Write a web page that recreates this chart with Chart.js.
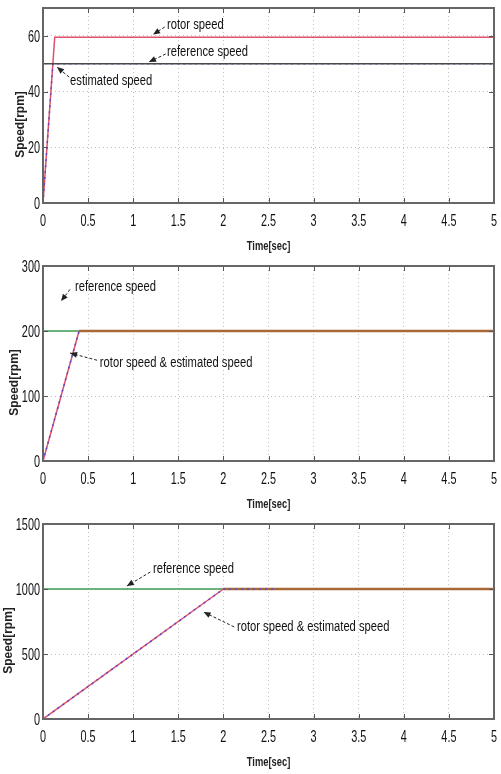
<!DOCTYPE html>
<html>
<head>
<meta charset="utf-8">
<script src="https://cdn.jsdelivr.net/npm/chart.js@4.4.0/dist/chart.umd.min.js"></script>
<style>
  html, body { margin: 0; padding: 0; background: #fff; }
  .panel { width: 501px; height: 258px; }
  canvas { display: block; }
</style>
</head>
<body>
<div class="panel"><canvas id="c1" width="501" height="258"></canvas></div>
<div class="panel"><canvas id="c2" width="501" height="258"></canvas></div>
<div class="panel"><canvas id="c3" width="501" height="258"></canvas></div>
<script>
// ─── data (time in sec, speed in rpm) ───────────────────────────────
const P1_Y_TICKS = [0, 20, 40, 60];
const P2_Y_TICKS = [0, 100, 200, 300];
const P3_Y_TICKS = [0, 500, 1000, 1500];

const P1_REF_T   = [0, 5];          const P1_REF   = [50, 50];
const P1_ROTOR_T = [0, 0.13, 5];    const P1_ROTOR = [0, 59.5, 59.5];
const P1_EST_T   = [0, 0.11, 5];    const P1_EST   = [0, 50, 50];

const P2_REF_T   = [0, 0, 5];       const P2_REF   = [0, 200, 200];
const P2_ROTOR_T = [0, 0.4, 5];     const P2_ROTOR = [0, 200, 200];
const P2_EST_T   = [0, 0.4, 5];     const P2_EST   = [0, 200, 200];

const P3_REF_T   = [0, 0, 5];       const P3_REF   = [0, 1000, 1000];
const P3_ROTOR_T = [0, 2, 5];       const P3_ROTOR = [0, 1000, 1000];
const P3_EST_T   = [0, 2, 2.6, 5];  const P3_EST   = [0, 1000, 1000, 1000];

const pts = (t, v) => t.map((x, i) => ({ x, y: v[i] }));
const fmt = v => String(+v.toFixed(2));

const RED = '#e0506a', BLUE = '#5a48d0', GREEN = '#3f9a50', BROWN = '#a8693a';

// text squeezed horizontally, the original uses a very narrow face
function narrowText(ctx, str, x, y, sx, align, base) {
  ctx.save();
  ctx.translate(x, y);
  ctx.scale(sx, 1);
  ctx.textAlign = align;
  ctx.textBaseline = base;
  ctx.fillText(str, 0, 0);
  ctx.restore();
}

function arrow(ctx, x0, y0, x1, y1) {
  ctx.save();
  ctx.strokeStyle = '#222';
  ctx.fillStyle = '#222';
  ctx.lineWidth = 1;
  ctx.setLineDash([3, 2]);
  ctx.beginPath(); ctx.moveTo(x0, y0); ctx.lineTo(x1, y1); ctx.stroke();
  ctx.setLineDash([]);
  const a = Math.atan2(y1 - y0, x1 - x0), L = 7, W = 3;
  ctx.beginPath();
  ctx.moveTo(x1, y1);
  ctx.lineTo(x1 - L * Math.cos(a) + W * Math.sin(a), y1 - L * Math.sin(a) - W * Math.cos(a));
  ctx.lineTo(x1 - L * Math.cos(a) - W * Math.sin(a), y1 - L * Math.sin(a) + W * Math.cos(a));
  ctx.closePath(); ctx.fill();
  ctx.restore();
}

// box, inward tick marks, tick labels, titles and callouts (MATLAB look)
const matlabPlugin = {
  id: 'matlab',
  afterDatasetsDraw(chart, args, opts) {
    const { ctx, chartArea: a, scales: { x, y } } = chart;
    ctx.save();
    ctx.strokeStyle = '#555';
    ctx.lineWidth = 1;
    x.ticks.forEach(t => {
      const px = Math.round(x.getPixelForValue(t.value)) + 0.5;
      ctx.beginPath();
      ctx.moveTo(px, a.bottom); ctx.lineTo(px, a.bottom - 5);
      ctx.moveTo(px, a.top); ctx.lineTo(px, a.top + 5);
      ctx.stroke();
    });
    y.ticks.forEach(t => {
      const py = Math.round(y.getPixelForValue(t.value)) + 0.5;
      ctx.beginPath();
      ctx.moveTo(a.left, py); ctx.lineTo(a.left + 5, py);
      ctx.moveTo(a.right, py); ctx.lineTo(a.right - 5, py);
      ctx.stroke();
    });
    ctx.strokeStyle = '#666';
    ctx.lineWidth = 2;
    ctx.strokeRect(a.left, a.top, a.right - a.left, a.bottom - a.top);

    // tick labels
    ctx.fillStyle = '#111';
    ctx.font = "17px 'Liberation Sans', Arial, sans-serif";
    x.ticks.forEach(t => {
      narrowText(ctx, fmt(t.value), x.getPixelForValue(t.value), a.bottom + 18, 0.64, 'center', 'middle');
    });
    let maxW = 0;
    y.ticks.forEach(t => {
      maxW = Math.max(maxW, ctx.measureText(fmt(t.value)).width * 0.64);
      narrowText(ctx, fmt(t.value), a.left - 3, y.getPixelForValue(t.value) + 1, 0.64, 'right', 'middle');
    });

    // axis titles
    ctx.fillStyle = '#222';
    ctx.font = "bold 13px 'Liberation Sans', Arial, sans-serif";
    narrowText(ctx, 'Time[sec]', (a.left + a.right) / 2, a.bottom + 43, 0.72, 'center', 'middle');
    ctx.save();
    ctx.translate(a.left - 3 - maxW - 7, (a.top + a.bottom) / 2 + 19);
    ctx.rotate(-Math.PI / 2);
    ctx.font = "bold 12px 'Liberation Sans', Arial, sans-serif";
    ctx.textAlign = 'center';
    ctx.textBaseline = 'middle';
    ctx.fillText('Speed[rpm]', 0, 0);
    ctx.restore();

    // callouts
    ctx.fillStyle = '#111';
    ctx.font = "14px 'Liberation Sans', Arial, sans-serif";
    (opts.notes || []).forEach(n => {
      narrowText(ctx, n.text, x.getPixelForValue(n.tx), y.getPixelForValue(n.ty), 0.8, 'left', 'middle');
      arrow(ctx, x.getPixelForValue(n.ax0), y.getPixelForValue(n.ay0),
                 x.getPixelForValue(n.ax1), y.getPixelForValue(n.ay1));
    });
    ctx.restore();
  }
};

function makeChart(id, spec) {
  const isFlat = c => c.p0.parsed.y === c.p1.parsed.y;
  return new Chart(document.getElementById(id), {
    type: 'line',
    data: {
      datasets: [
        {
          label: 'estimated speed',
          data: spec.est,
          borderColor: BLUE,
          borderWidth: 1.5,
          borderDash: [2, 4],
          segment: {
            borderColor: c => (spec.estUntil !== undefined && c.p0.parsed.x >= spec.estUntil) ? 'rgba(0,0,0,0)' : BLUE
          },
          pointRadius: 0,
          order: spec.refOnTop ? 2 : 1
        },
        {
          label: 'rotor speed',
          data: spec.rotor,
          borderColor: RED,
          borderWidth: 1.5,
          segment: {
            borderColor: c => (spec.brownFlat && isFlat(c)) ? BROWN : RED,
            borderWidth: c => (spec.brownFlat && isFlat(c)) ? 2.5 : 1.5
          },
          pointRadius: 0,
          order: spec.refOnTop ? 3 : 2
        },
        {
          label: 'reference speed',
          data: spec.ref,
          borderColor: spec.refColor,
          borderWidth: 1.5,
          pointRadius: 0,
          order: spec.refOnTop ? 1 : 3
        }
      ]
    },
    options: {
      responsive: false,
      animation: false,
      events: [],
      layout: { padding: { left: 0, right: 7, top: 8, bottom: 0 } },
      plugins: {
        legend: { display: false },
        tooltip: { enabled: false },
        matlab: { notes: spec.notes }
      },
      scales: {
        x: {
          type: 'linear',
          min: 0, max: 5,
          ticks: { stepSize: 0.5, display: false },
          grid: { color: '#c0c0c0', drawTicks: false },
          border: { display: false, dash: [1, 3] },
          afterFit: s => { s.height = 55; }
        },
        y: {
          min: 0, max: spec.ymax,
          afterBuildTicks: s => { s.ticks = spec.yTicks.map(v => ({ value: v })); },
          ticks: { display: false },
          grid: { color: '#c0c0c0', drawTicks: false },
          border: { display: false, dash: [1, 3] },
          afterFit: s => { s.width = 43; }
        }
      }
    },
    plugins: [matlabPlugin]
  });
}

makeChart('c1', {
  ymax: 70, yTicks: P1_Y_TICKS, refColor: '#4a4a4a', refOnTop: true,
  ref: pts(P1_REF_T, P1_REF), rotor: pts(P1_ROTOR_T, P1_ROTOR), est: pts(P1_EST_T, P1_EST),
  notes: [
    { text: 'rotor speed',     tx: 1.375, ty: 63.9, ax0: 1.35, ay0: 63.2, ax1: 1.22,  ay1: 60.5 },
    { text: 'reference speed', tx: 1.375, ty: 54.2, ax0: 1.36, ay0: 53.5, ax1: 1.175, ay1: 50.6 },
    { text: 'estimated speed', tx: 0.30,  ty: 43.8, ax0: 0.29, ay0: 45.2, ax1: 0.155, ay1: 48.8 }
  ]
});

makeChart('c2', {
  ymax: 300, yTicks: P2_Y_TICKS, refColor: GREEN, brownFlat: true, estUntil: 0.4,
  ref: pts(P2_REF_T, P2_REF), rotor: pts(P2_ROTOR_T, P2_ROTOR), est: pts(P2_EST_T, P2_EST),
  notes: [
    { text: 'reference speed', tx: 0.355, ty: 268, ax0: 0.30, ay0: 264, ax1: 0.20, ay1: 246 },
    { text: 'rotor speed & estimated speed', tx: 0.63, ty: 151, ax0: 0.60, ay0: 155, ax1: 0.30, ay1: 166 }
  ]
});

makeChart('c3', {
  ymax: 1500, yTicks: P3_Y_TICKS, refColor: GREEN, brownFlat: true, estUntil: 2.6,
  ref: pts(P3_REF_T, P3_REF), rotor: pts(P3_ROTOR_T, P3_ROTOR), est: pts(P3_EST_T, P3_EST),
  notes: [
    { text: 'reference speed', tx: 1.22, ty: 1154, ax0: 1.19, ay0: 1131, ax1: 0.93, ay1: 1023 },
    { text: 'rotor speed & estimated speed', tx: 2.15, ty: 708, ax0: 2.12, ay0: 708, ax1: 1.78, ay1: 823 }
  ]
});
</script>
</body>
</html>
